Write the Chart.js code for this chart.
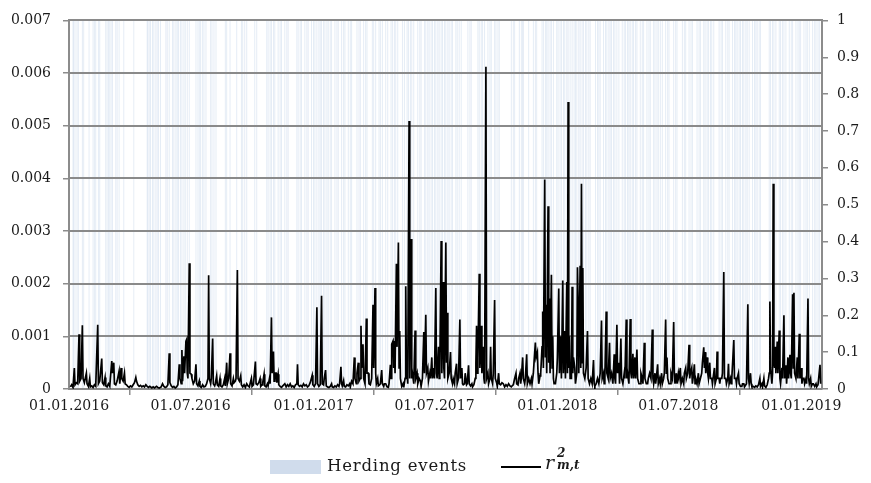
<!DOCTYPE html>
<html>
<head>
<meta charset="utf-8">
<script src="https://cdn.jsdelivr.net/npm/chart.js@4/dist/chart.umd.min.js"></script>
<style>
  html,body{margin:0;padding:0;background:#fff;}
  #wrap{position:relative;width:871px;height:483px;}
  #legend{position:absolute;left:0;top:0;width:871px;height:483px;pointer-events:none;font-family:"DejaVu Serif",serif;color:#1a1a1a;}
  .sw{position:absolute;left:270px;top:460px;width:51px;height:14px;background:#d0dcec;}
  .lt{position:absolute;left:327px;top:456px;font-size:16.5px;letter-spacing:0.8px;line-height:20px;}
  .ln{position:absolute;left:501px;top:466px;width:40px;height:2px;background:#000;}
  .r2{position:absolute;left:545px;top:452px;font-size:19px;font-style:italic;line-height:20px;}
  .r2 .stk{position:absolute;left:12px;top:-5px;display:flex;flex-direction:column;font-size:12px;line-height:12px;font-weight:bold;font-style:italic;}
</style>
</head>
<body>
<div id="wrap">
<canvas id="c" width="871" height="483"></canvas>
<div id="legend">
  <div class="sw"></div><div class="lt">Herding events</div>
  <div class="ln"></div>
  <div class="r2">r<span class="stk"><span>2</span><span>m,t</span></span></div>
</div>
</div>
<script>
// Days counted from 01.01.2016
const tickDays = [0, 182, 366, 547, 731, 912, 1096];
const tickLabels = ["01.01.2016","01.07.2016","01.01.2017","01.07.2017","01.01.2018","01.07.2018","01.01.2019"];

const herdingDays = [6,7,9,12,14,20,22,30,36,38,40,44,46,55,57,59,61,63,65,70,72,75,82,97,117,118,120,122,125,127,130,132,134,137,145,147,150,155,157,160,162,164,167,169,172,174,177,180,190,193,195,197,200,202,205,212,214,217,220,
234,236,241,251,258,260,263,266,278,281,296,298,301,303,306,308,313,316,318,323,326,328,341,343,346,348,353,356,358,363,366,368,371,374,376,378,381,383,386,388,391,393,398,401,403,408,411,413,418,421,423,431,434,436,441,444,446,
454,456,459,464,466,469,474,477,482,484,487,489,492,499,502,506,508,511,513,516,522,525,527,532,534,537,539,542,544,547,549,552,554,557,559,562,564,567,569,572,574,579,581,584,587,597,600,602,612,614,617,619,622,627,630,632,637,639,642,644,662,665,667,674,677,679,
680,688,695,698,700,708,710,713,715,717,720,722,725,730,732,735,737,740,742,745,747,750,753,756,758,760,763,765,768,770,773,775,778,780,788,791,793,795,800,803,805,808,810,812,815,817,820,823,828,831,833,836,838,840,843,845,848,850,855,858,860,865,868,870,875,877,880,882,885,888,893,896,898,
905,908,910,918,921,923,928,931,933,940,943,945,950,952,955,957,960,962,965,973,976,978,983,986,988,993,996,998,1000,1003,1005,1008,1010,1013,1015,1018,1023,1026,1028,1030,1033,1035,1048,1050,1053,1055,1058,1063,1065,1068,1070,1073,1078,1081,1083,1088,1091,1093,1095,1100,1103,1105,1108,1113,1116,1118,1121,1123];

// [day, r2_mt]
const r2Points = [[2,0.00004],[4,0.00008],[6,0.00003],[8,0.0004],[9,0.00008],[11,0.00012],[13,0.0001],[15,0.00104],[16,0.00015],[18,0.0002],[20,0.00121],[21,0.0002],[23,0.00012],[26,0.0003],[27,0.0001],[29,0.00005],[31,0.0002],[32,0.00004],[34,0.00006],[36,0.00003],[38,0.00008],[40,0.00005],[43,0.00122],[44,0.0001],[46,0.00015],[49,0.00058],[50,0.00012],[52,0.00008],[54,0.00022],[55,0.00006],[57,0.00004],[59,0.0001],[61,0.00005],[64,0.00053],[65,0.0003],[67,0.0005],[68,0.0001],[70,0.00008],[72,0.00015],[75,0.00034],[76,0.0001],[78,0.0004],[79,0.0002],[81,0.00015],[83,0.0003],[84,0.0001],[86,0.00008],[88,0.00005],[90,0.00003],[92,0.00006],[94,0.00004],[96,0.00008],[98,0.00012],[100,0.00022],[101,0.00015],[103,0.00008],[105,0.00005],[107,0.00007],[109,0.00004],[111,0.00006],[113,0.00004],[115,0.00008],[117,0.00005],
[119,0.00003],[121,0.00005],[124,0.00002],[126,0.00004],[128,0.00002],[131,0.00005],[133,0.00003],[135,0.00002],[138,0.00004],[140,0.0001],[142,0.00005],[144,0.00003],[146,0.00004],[148,0.00008],[150,0.00068],[151,0.00012],[153,0.00006],[155,0.00003],[157,0.00005],[159,0.00002],[161,0.00004],[163,0.00008],[165,0.00047],[166,0.0002],[168,0.0001],[169,0.00074],[170,0.00015],[172,0.00062],[173,0.0003],[175,0.00091],[176,0.00094],[177,0.0003],[178,0.0002],[180,0.00239],[181,0.0003],[183,0.00028],[184,0.0002],[186,0.0001],[188,0.00015],[190,0.00047],[191,0.0001],[193,0.00006],[195,0.00015],[196,0.00005],[198,0.00003],[200,0.00008],[202,0.00004],[204,0.00005],[206,0.0001],[208,0.0002],[209,0.00216],[210,0.0002],[212,0.0001],[213,0.0002],[215,0.00096],[216,0.0001],[218,0.00006],[219,0.0001],[221,0.00025],[222,0.00008],[224,0.00005],[226,0.0002],[227,0.00006],[229,0.00004],[231,0.00008],[233,0.0002],[234,0.00006],[236,0.0005],[237,0.0001],[239,0.0002],[241,0.00068],[242,0.0001],[244,0.00006],[246,0.0002],[247,0.00012],[249,0.00015],[250,0.0002],[252,0.00226],[253,0.0002],[255,0.00015],[257,0.00025],[258,0.00008],[260,0.00004],[262,0.00008],[264,0.00003],[266,0.0001],[268,0.00006],[270,0.00004],[271,0.0001],[273,0.0002],[274,0.00005],[276,0.00008],[279,0.00052],[280,0.0001],[282,0.00008],[284,0.00012],[286,0.0002],[287,0.00005],[289,0.00008],[290,0.00012],[292,0.00028],[293,0.00006],[295,0.00004],[297,0.0001],[298,0.00006],[300,0.0002],[301,0.0001],[303,0.00136],[304,0.0003],[306,0.00071],[307,0.00015],[308,0.0003],[310,0.0003],[311,0.00012],[313,0.00028],[314,0.00008],[316,0.00005],[318,0.00003],[320,0.00006],[323,0.0001],[325,0.00004],[327,0.00008],[329,0.00005],[331,0.0001],[333,0.00004],[335,0.00006],[337,0.00003],[339,0.00008],[341,0.0001],[342,0.00047],[343,0.00008],[345,0.00005],[347,0.00007],[349,0.00004],[351,0.0001],[353,0.00006],[355,0.00008],[357,0.00004],[359,0.00006],[361,0.00012],[364,0.00026],[365,0.00008],[367,0.00005],[369,0.0001],[371,0.00155],[372,0.0001],[374,0.00005],[376,0.00008],[378,0.00177],[379,0.0001],[381,0.00008],[382,0.0002],[384,0.00036],[385,0.00006],[387,0.00004],[389,0.00003],[391,0.00005],[393,0.0001],[394,0.00004],[396,0.00003],[398,0.00006],[400,0.00004],[402,0.00008],[404,0.00005],[405,0.0001],[407,0.00042],[408,0.0001],[409,0.00006],[411,0.00016],[412,0.00005],[414,0.00004],[416,0.00008],[418,0.00006],[420,0.0001],[421,0.00004],[423,0.00015],[425,0.0001],[427,0.0006],[428,0.0002],[430,0.0001],[431,0.0003],[433,0.0005],[434,0.00015],[436,0.0002],[437,0.0012],[438,0.0004],[440,0.00085],[441,0.0002],[443,0.0001],[445,0.00134],[446,0.0003],[448,0.0003],[449,0.0001],[451,0.00008],[453,0.0002],[455,0.0016],[456,0.0004],[458,0.00192],[459,0.0003],[460,0.0001],[462,0.0002],[463,0.00006],[465,0.00008],[466,0.0001],[468,0.00036],[469,0.0001],[471,0.00005],[472,0.0001],[474,0.0001],[476,0.00004],[478,0.00003],[479,0.0001],[481,0.00046],[482,0.0002],[483,0.00085],[485,0.00091],[486,0.0004],[487,0.00086],[488,0.0003],[490,0.00238],[491,0.0008],[493,0.00278],[494,0.0004],[495,0.0011],[496,0.0002],[498,0.00005],[500,0.0001],[501,0.00003],[503,0.0002],[504,0.00195],[505,0.0002],[506,0.0003],[507,0.0001],[509,0.00509],[510,0.0002],[512,0.00285],[513,0.0002],[514,0.0003],[516,0.0001],[518,0.00111],[519,0.0002],[521,0.0003],[522,0.0001],[524,0.0002],[526,0.00015],[527,0.00005],[529,0.0002],[531,0.00108],[532,0.0003],[534,0.00141],[535,0.0003],[537,0.0004],[538,0.00015],[540,0.0003],[541,0.0002],[543,0.0006],[544,0.0002],[546,0.0004],[547,0.0002],[549,0.00192],[550,0.0003],[551,0.0002],[553,0.0008],[554,0.0002],[555,0.0004],[557,0.00281],[558,0.0003],[560,0.00203],[561,0.0004],[562,0.0002],[564,0.00278],[565,0.0005],[566,0.00145],[567,0.0002],[569,0.0003],[571,0.0007],[572,0.0002],[574,0.0001],[575,0.0002],[577,0.0001],[578,0.0003],[580,0.00048],[581,0.0001],[583,0.0002],[585,0.00132],[586,0.0002],[588,0.0004],[589,0.0001],[590,0.00008],[592,0.0001],[593,0.0003],[595,0.00008],[596,0.0001],[598,0.00045],[599,0.0001],[601,0.00006],[603,0.0001],[604,0.00004],[606,0.00008],[608,0.0002],[609,0.0005],[610,0.0012],[611,0.0003],[612,0.0006],[614,0.00219],[615,0.0004],[617,0.0012],[618,0.0003],[620,0.0008],[621,0.0002],[622,0.0001],[624,0.00612],[625,0.0002],[627,0.0003],[628,0.0001],[630,0.0002],[631,0.0008],[632,0.0002],[634,0.0001],[635,0.0003],[637,0.00169],[638,0.0002],[640,0.00012],[641,0.00005],[643,0.0003],[644,0.0001],[646,0.00008],[648,0.00012],[650,0.0001],[652,0.00004],[654,0.00008],[656,0.00005],[658,0.0001],[660,0.00006],[662,0.00004],[664,0.00007],[665,0.00008],[667,0.0002],[669,0.0003],[670,0.0001],[672,0.00008],[673,0.0002],[675,0.0003],[676,0.0001],[677,0.0002],[679,0.0006],[680,0.0002],[682,0.0001],[683,0.0002],[685,0.00066],[686,0.0001],[688,0.0002],[690,0.0001],[692,0.0002],[693,0.0001],[695,0.0003],[696,0.0005],[698,0.00088],[699,0.0006],[701,0.0007],[702,0.0003],[703,0.0001],[705,0.00025],[706,0.0003],[708,0.0008],[709,0.00147],[710,0.0004],[712,0.00398],[713,0.0006],[714,0.0016],[715,0.0003],[717,0.00347],[718,0.0005],[719,0.00172],[720,0.0003],[722,0.00217],[723,0.0004],[724,0.001],[725,0.0002],[726,0.0001],[728,0.0001],[730,0.0003],[731,0.0006],[733,0.00191],[734,0.0003],[736,0.001],[737,0.0002],[739,0.00206],[740,0.0003],[742,0.0011],[743,0.0002],[745,0.00203],[746,0.0003],[747,0.00545],[748,0.0004],[749,0.001],[750,0.0002],[752,0.0002],[753,0.00194],[754,0.0003],[755,0.0006],[757,0.0004],[758,0.0001],[760,0.0003],[761,0.00231],[762,0.00166],[763,0.0003],[765,0.00234],[766,0.0004],[767,0.0039],[768,0.0005],[769,0.0023],[770,0.0003],[772,0.0002],[774,0.0004],[776,0.0011],[777,0.0002],[779,0.0001],[781,0.0002],[783,0.0001],[785,0.00055],[786,0.0001],[787,0.00005],[789,0.0001],[791,0.0002],[793,0.0001],[795,0.0003],[797,0.0013],[798,0.0002],[800,0.0003],[801,0.0001],[802,0.0002],[804,0.00147],[805,0.0003],[807,0.0002],[809,0.00088],[810,0.0002],[812,0.0003],[814,0.0001],[816,0.00066],[817,0.0002],[818,0.0001],[820,0.00122],[821,0.0003],[823,0.0005],[824,0.0001],[826,0.00096],[827,0.0002],[829,0.0001],[831,0.0003],[832,0.0002],[834,0.00132],[835,0.0002],[836,0.0003],[838,0.0001],[840,0.00133],[841,0.0003],[842,0.0002],[844,0.00067],[845,0.0002],[847,0.0006],[848,0.0002],[850,0.00075],[851,0.0002],[853,0.0001],[855,0.0001],[856,0.0003],[858,0.0002],[859,0.0001],[861,0.00088],[862,0.0002],[864,0.0001],[866,0.0001],[867,0.0002],[869,0.0003],[871,0.0002],[873,0.00113],[874,0.0002],[875,0.0001],[877,0.0003],[878,0.0001],[879,0.0002],[881,0.00047],[882,0.0001],[884,0.0002],[885,0.0001],[887,0.0003],[888,0.0001],[890,0.0002],[891,0.0003],[893,0.00132],[894,0.0003],[895,0.0006],[896,0.0002],[898,0.0001],[900,0.0001],[901,0.0003],[903,0.0002],[905,0.00127],[906,0.0003],[907,0.0001],[909,0.0003],[910,0.0001],[912,0.0003],[913,0.0002],[915,0.0004],[916,0.0001],[918,0.0002],[920,0.0001],[921,0.0003],[923,0.0004],[924,0.0002],[926,0.0003],[928,0.00084],[929,0.0002],[930,0.0003],[932,0.0004],[933,0.0001],[934,0.0002],[936,0.00047],[937,0.0001],[938,0.0002],[940,0.0001],[942,0.0003],[943,0.0001],[945,0.0002],[947,0.0003],[948,0.0005],[950,0.00079],[951,0.0004],[952,0.0007],[953,0.0003],[955,0.0006],[956,0.0003],[957,0.0002],[959,0.0005],[960,0.0002],[962,0.0002],[963,0.0001],[964,0.0002],[966,0.0004],[967,0.0001],[969,0.0002],[970,0.00071],[971,0.0002],[973,0.0002],[974,0.0001],[975,0.0002],[977,0.0002],[978,0.0003],[980,0.00222],[981,0.0002],[983,0.0002],[984,0.0001],[986,0.0002],[987,0.00048],[988,0.0001],[990,0.0002],[991,0.0001],[992,0.0002],[995,0.00093],[996,0.0002],[998,0.0002],[999,0.0001],[1000,0.0002],[1002,0.0003],[1003,0.0001],[1005,0.00005],[1007,0.00005],[1008,0.0001],[1010,0.0001],[1011,0.00004],[1013,0.00008],[1014,0.0001],[1016,0.00161],[1017,0.0002],[1018,0.0001],[1020,0.0003],[1021,0.0001],[1022,0.00005],[1024,0.00005],[1026,0.00003],[1028,0.00006],[1030,0.00004],[1032,0.00008],[1034,0.0002],[1035,0.00005],[1037,0.0001],[1038,0.00004],[1040,0.0002],[1041,0.00006],[1043,0.00003],[1045,0.00008],[1047,0.0002],[1048,0.0003],[1049,0.00166],[1050,0.0004],[1052,0.0001],[1053,0.0003],[1054,0.0039],[1055,0.0005],[1056,0.0004],[1057,0.0008],[1058,0.0003],[1060,0.0009],[1061,0.0003],[1063,0.00111],[1064,0.0002],[1065,0.0001],[1067,0.0004],[1068,0.0002],[1070,0.0014],[1071,0.0002],[1073,0.00045],[1074,0.0001],[1076,0.0006],[1077,0.0002],[1079,0.00065],[1080,0.0003],[1081,0.0002],[1083,0.0018],[1084,0.0004],[1085,0.00183],[1086,0.0003],[1088,0.0002],[1090,0.0006],[1091,0.0002],[1093,0.00105],[1094,0.0002],[1096,0.0004],[1097,0.0001],[1098,0.0002],[1100,0.0002],[1101,0.0001],[1103,0.0002],[1104,0.0001],[1106,0.00172],[1107,0.0002],[1108,0.0001],[1110,0.0002],[1111,0.00005],[1113,0.0001],[1114,0.0001],[1116,0.00005],[1118,0.0001],[1119,0.00004],[1121,0.00008],[1122,0.0002],[1124,0.00046],[1125,0.0001]];

const AXIS_GRAY = '#8c8c8c';
const GRID_GRAY = '#8a8a8a';
const TEXT = '#1a1a1a';
const FONT = {family: '"DejaVu Serif", serif', size: 14};
const fmt = v => String(Math.round(v * 10000) / 10000);

// Draw the left-axis grid lines right after the herding bars (dataset 0),
// so they sit above the stripes and below the r2 line, using the y scale.
const gridOverBars = {
  id: 'gridOverBars',
  afterDatasetDraw(chart, args) {
    if (args.index !== 0) return;
    const {ctx, chartArea: a, scales: {y}} = chart;
    ctx.save();
    ctx.strokeStyle = GRID_GRAY;
    ctx.lineWidth = 2;
    y.ticks.forEach(t => {
      const py = Math.round(y.getPixelForValue(t.value));
      ctx.beginPath();
      ctx.moveTo(a.left, py);
      ctx.lineTo(a.right, py);
      ctx.stroke();
    });
    ctx.restore();
  }
};

new Chart(document.getElementById('c'), {
  type: 'line',
  plugins: [gridOverBars],
  data: {
    datasets: [
      {
        type: 'bar',
        label: 'Herding events',
        data: herdingDays.map(d => ({x: d, y: 1})),
        yAxisID: 'y1',
        backgroundColor: 'rgba(200,216,236,0.5)',
        barThickness: 0.9,
        inflateAmount: 0,
        borderWidth: 0,
        order: 2
      },
      {
        type: 'line',
        label: 'r2',
        data: r2Points.map(p => ({x: p[0], y: p[1]})),
        yAxisID: 'y',
        borderColor: '#000',
        borderWidth: 1.7,
        pointRadius: 0,
        tension: 0,
        order: 1
      }
    ]
  },
  options: {
    responsive: false,
    animation: false,
    layout: {padding: {top: 14, left: 0, right: 0, bottom: 0}},
    plugins: {legend: {display: false}, tooltip: {enabled: false}},
    scales: {
      x: {
        type: 'linear', min: 0, max: 1127, offset: false,
        afterBuildTicks: s => { s.ticks = tickDays.map(v => ({value: v})); },
        ticks: {callback: (v, i) => tickLabels[i], autoSkip: false, maxRotation: 0, padding: 3, color: TEXT, font: FONT},
        grid: {drawOnChartArea: false, drawTicks: true, tickLength: 6, color: AXIS_GRAY, lineWidth: 1.5},
        border: {display: true, color: AXIS_GRAY, width: 2},
        afterFit: s => { s.height = 94; }
      },
      y: {
        position: 'left', min: 0, max: 0.007,
        ticks: {stepSize: 0.001, callback: v => fmt(v), padding: 12, color: TEXT, font: FONT},
        grid: {drawOnChartArea: false, drawTicks: true, color: AXIS_GRAY, lineWidth: 1.5, tickLength: 6},
        border: {display: true, color: AXIS_GRAY, width: 2},
        afterFit: s => { s.width = 69; }
      },
      y1: {
        position: 'right', min: 0, max: 1,
        ticks: {stepSize: 0.1, callback: v => fmt(v), padding: 9, color: TEXT, font: FONT},
        grid: {drawOnChartArea: false, drawTicks: true, tickLength: 6, color: AXIS_GRAY, lineWidth: 1.5},
        border: {display: true, color: AXIS_GRAY, width: 2},
        afterFit: s => { s.width = 49; }
      }
    }
  }
});
</script>
</body>
</html>
